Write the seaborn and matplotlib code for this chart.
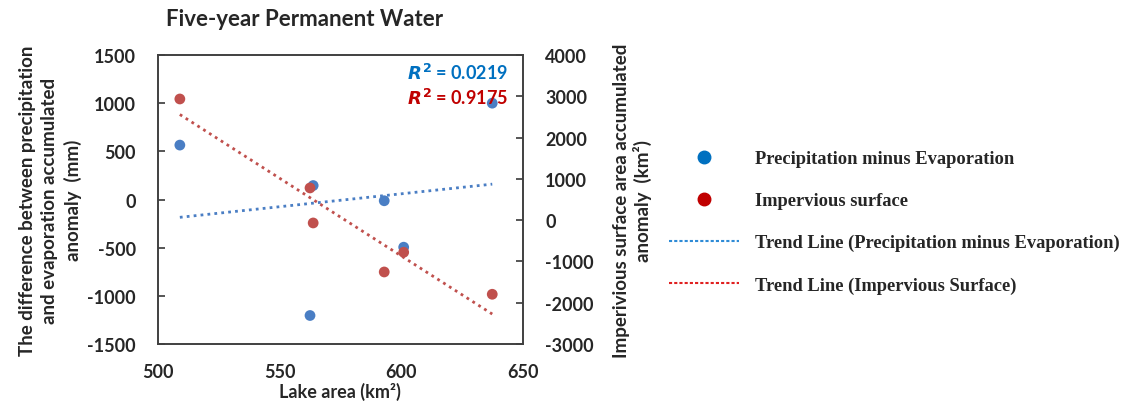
import numpy as np
import pandas as pd
import matplotlib
matplotlib.use('Agg')
import matplotlib.pyplot as plt
import seaborn as sns
from matplotlib.lines import Line2D

# Data
lake_area = [509, 562.5, 563.8, 593, 601, 637.4]
p_minus_e = [565, -1204, 145, -13, -495, 1000]          # mm, left axis
impervious = [2935, 780, -68, -1255, -778, -1795]       # km2, right axis
r2_labels = ['0.0219', '0.9175']

df = pd.DataFrame({'lake': lake_area, 'pe': p_minus_e, 'imp': impervious})

sns.set_theme(style='white')
plt.rcParams['font.family'] = ['Lato', 'DejaVu Sans']
plt.rcParams['font.weight'] = 'bold'
plt.rcParams['axes.unicode_minus'] = False

blue_pt = '#4A7EC4'
red_pt = '#C0504D'
blue_txt = '#0070C0'
red_txt = '#C00000'

fig = plt.figure(figsize=(11.25, 4.1), dpi=100)
ax = fig.add_axes([0.1404, 0.1585, 0.3244, 0.7049])
ax2 = ax.twinx()

sns.regplot(data=df, x='lake', y='pe', ax=ax, ci=None,
            scatter_kws=dict(s=60, color=blue_pt, edgecolor='none', alpha=1, zorder=3),
            line_kws=dict(color=blue_pt, linestyle=(0, (1, 1.5)), linewidth=2))
sns.regplot(data=df, x='lake', y='imp', ax=ax2, ci=None,
            scatter_kws=dict(s=60, color=red_pt, edgecolor='none', alpha=1, zorder=3),
            line_kws=dict(color=red_pt, linestyle=(0, (1, 1.5)), linewidth=2))

ax.set_xlim(500, 650)
ax.set_xticks([500, 550, 600, 650])
ax.set_ylim(-1500, 1500)
ax.set_yticks(range(-1500, 1501, 500))
ax2.set_ylim(-3000, 4000)
ax2.set_yticks(range(-3000, 4001, 1000))

for a in (ax, ax2):
    for s in a.spines.values():
        s.set_color('#404040')
        s.set_linewidth(1.2)
ax.tick_params(axis='x', direction='in', length=5, labelsize=13, pad=14, color='#404040')
ax.tick_params(axis='y', direction='in', length=5, labelsize=13, pad=16, color='#404040')
ax2.tick_params(axis='y', direction='in', length=5, labelsize=13, pad=16, color='#404040')
for lab in ax.get_xticklabels() + ax.get_yticklabels() + ax2.get_yticklabels():
    lab.set_fontweight('bold')

ax.set_xlabel('Lake area (km²)', fontsize=13, fontweight='bold', labelpad=1)
ax.set_ylabel('The difference between precipitation\nand evaporation accumulated\nanomaly  (mm)',
              fontsize=13.5, fontweight='bold', labelpad=4, linespacing=1.35)
ax2.set_ylabel('Imperivious surface area accumulated\nanomaly  (km²)',
               fontsize=13.5, fontweight='bold', labelpad=14, linespacing=1.2)

ax.text(0.96, 0.975, '$\\mathbf{\\it{R}^2}$ = ' + r2_labels[0], transform=ax.transAxes,
        ha='right', va='top', color=blue_txt, fontsize=13, fontweight='bold')
ax.text(0.96, 0.888, '$\\mathbf{\\it{R}^2}$ = ' + r2_labels[1], transform=ax.transAxes,
        ha='right', va='top', color=red_txt, fontsize=13, fontweight='bold')

fig.text(305 / 1125, 1 - 20 / 410, 'Five-year Permanent Water', ha='center', va='center',
         fontsize=16, fontweight='bold')

handles = [
    Line2D([], [], marker='o', linestyle='none', markersize=9, color=blue_txt),
    Line2D([], [], marker='o', linestyle='none', markersize=9, color=red_txt),
    Line2D([], [], linestyle=(0, (1.5, 1)), color='#2E8BD6', linewidth=1.5),
    Line2D([], [], linestyle=(0, (1.5, 1)), color='#E02020', linewidth=1.5),
]
labels = ['Precipitation minus Evaporation', 'Impervious surface',
          'Trend Line (Precipitation minus Evaporation)', 'Trend Line (Impervious Surface)']
fig.legend(handles, labels, loc='center left', bbox_to_anchor=(652 / 1125, 1 - 223 / 410),
           frameon=False, prop=dict(family='Liberation Serif', weight='bold', size=13.3),
           handlelength=3.8, handletextpad=0.9, labelspacing=1.35)

fig.savefig('out.png', dpi=100)
